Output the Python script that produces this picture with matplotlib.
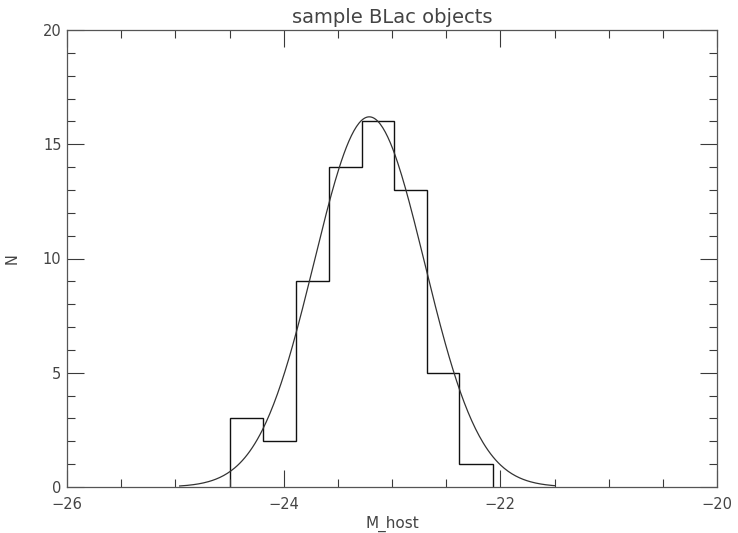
"""Histogram of BL Lac host magnitudes with a Gaussian fit, IDL-style."""
import matplotlib
matplotlib.use("Agg")
import matplotlib.pyplot as plt
import numpy as np
from matplotlib.ticker import MultipleLocator

# histogram bins
BIN_EDGES = [-24.50, -24.19, -23.89, -23.58, -23.28, -22.98, -22.68, -22.38, -22.07]
COUNTS = [3, 2, 9, 14, 16, 13, 5, 1]

# gaussian fit overlay: amplitude, centre, width, and drawn range
GAUSS_AMP = 16.2
GAUSS_MEAN = -23.21
GAUSS_SIGMA = 0.51
CURVE_RANGE = (-24.96, -21.50)

X_TICKS = [-26, -24, -22, -20]
Y_TICKS = [0, 5, 10, 15, 20]

INK = "#3a3a3a"
TEXT = "#444444"

plt.rcParams["font.family"] = ["DejaVu Sans"]

fig = plt.figure(figsize=(7.38, 5.33), dpi=100)
ax = fig.add_axes([67 / 738, 46 / 533, 650 / 738, 457 / 533])

ax.stairs(COUNTS, BIN_EDGES, color="#111111", lw=1.0)

xs = np.linspace(*CURVE_RANGE, 300)
ax.plot(xs, GAUSS_AMP * np.exp(-0.5 * ((xs - GAUSS_MEAN) / GAUSS_SIGMA) ** 2),
        color="#333333", lw=0.9)

ax.set_xlim(-26, -20)
ax.set_ylim(0, 20)
ax.set_xticks(X_TICKS)
ax.set_yticks(Y_TICKS)
ax.set_xticklabels([f"\u2212{abs(v)}" for v in X_TICKS])
ax.xaxis.set_minor_locator(MultipleLocator(0.5))
ax.yaxis.set_minor_locator(MultipleLocator(1))
ax.tick_params(which="both", direction="in", top=True, right=True,
               colors=INK, labelcolor=TEXT, labelsize=10.5, width=0.8)
ax.tick_params(which="major", length=12)
ax.tick_params(which="minor", length=6)
ax.tick_params(axis="x", which="major", pad=7)
ax.tick_params(axis="y", which="major", pad=4)
for side in ax.spines.values():
    side.set_color("#555555")
    side.set_linewidth(0.9)

ax.set_title("sample BLac objects", color=TEXT, fontsize=14, pad=5)
ax.set_xlabel("M_host", color=TEXT, fontsize=11, labelpad=3)
ax.set_ylabel("N", color=TEXT, fontsize=10.5)
ax.yaxis.set_label_coords(-47 / 650, 0.5)

fig.savefig("out.png", dpi=100)
